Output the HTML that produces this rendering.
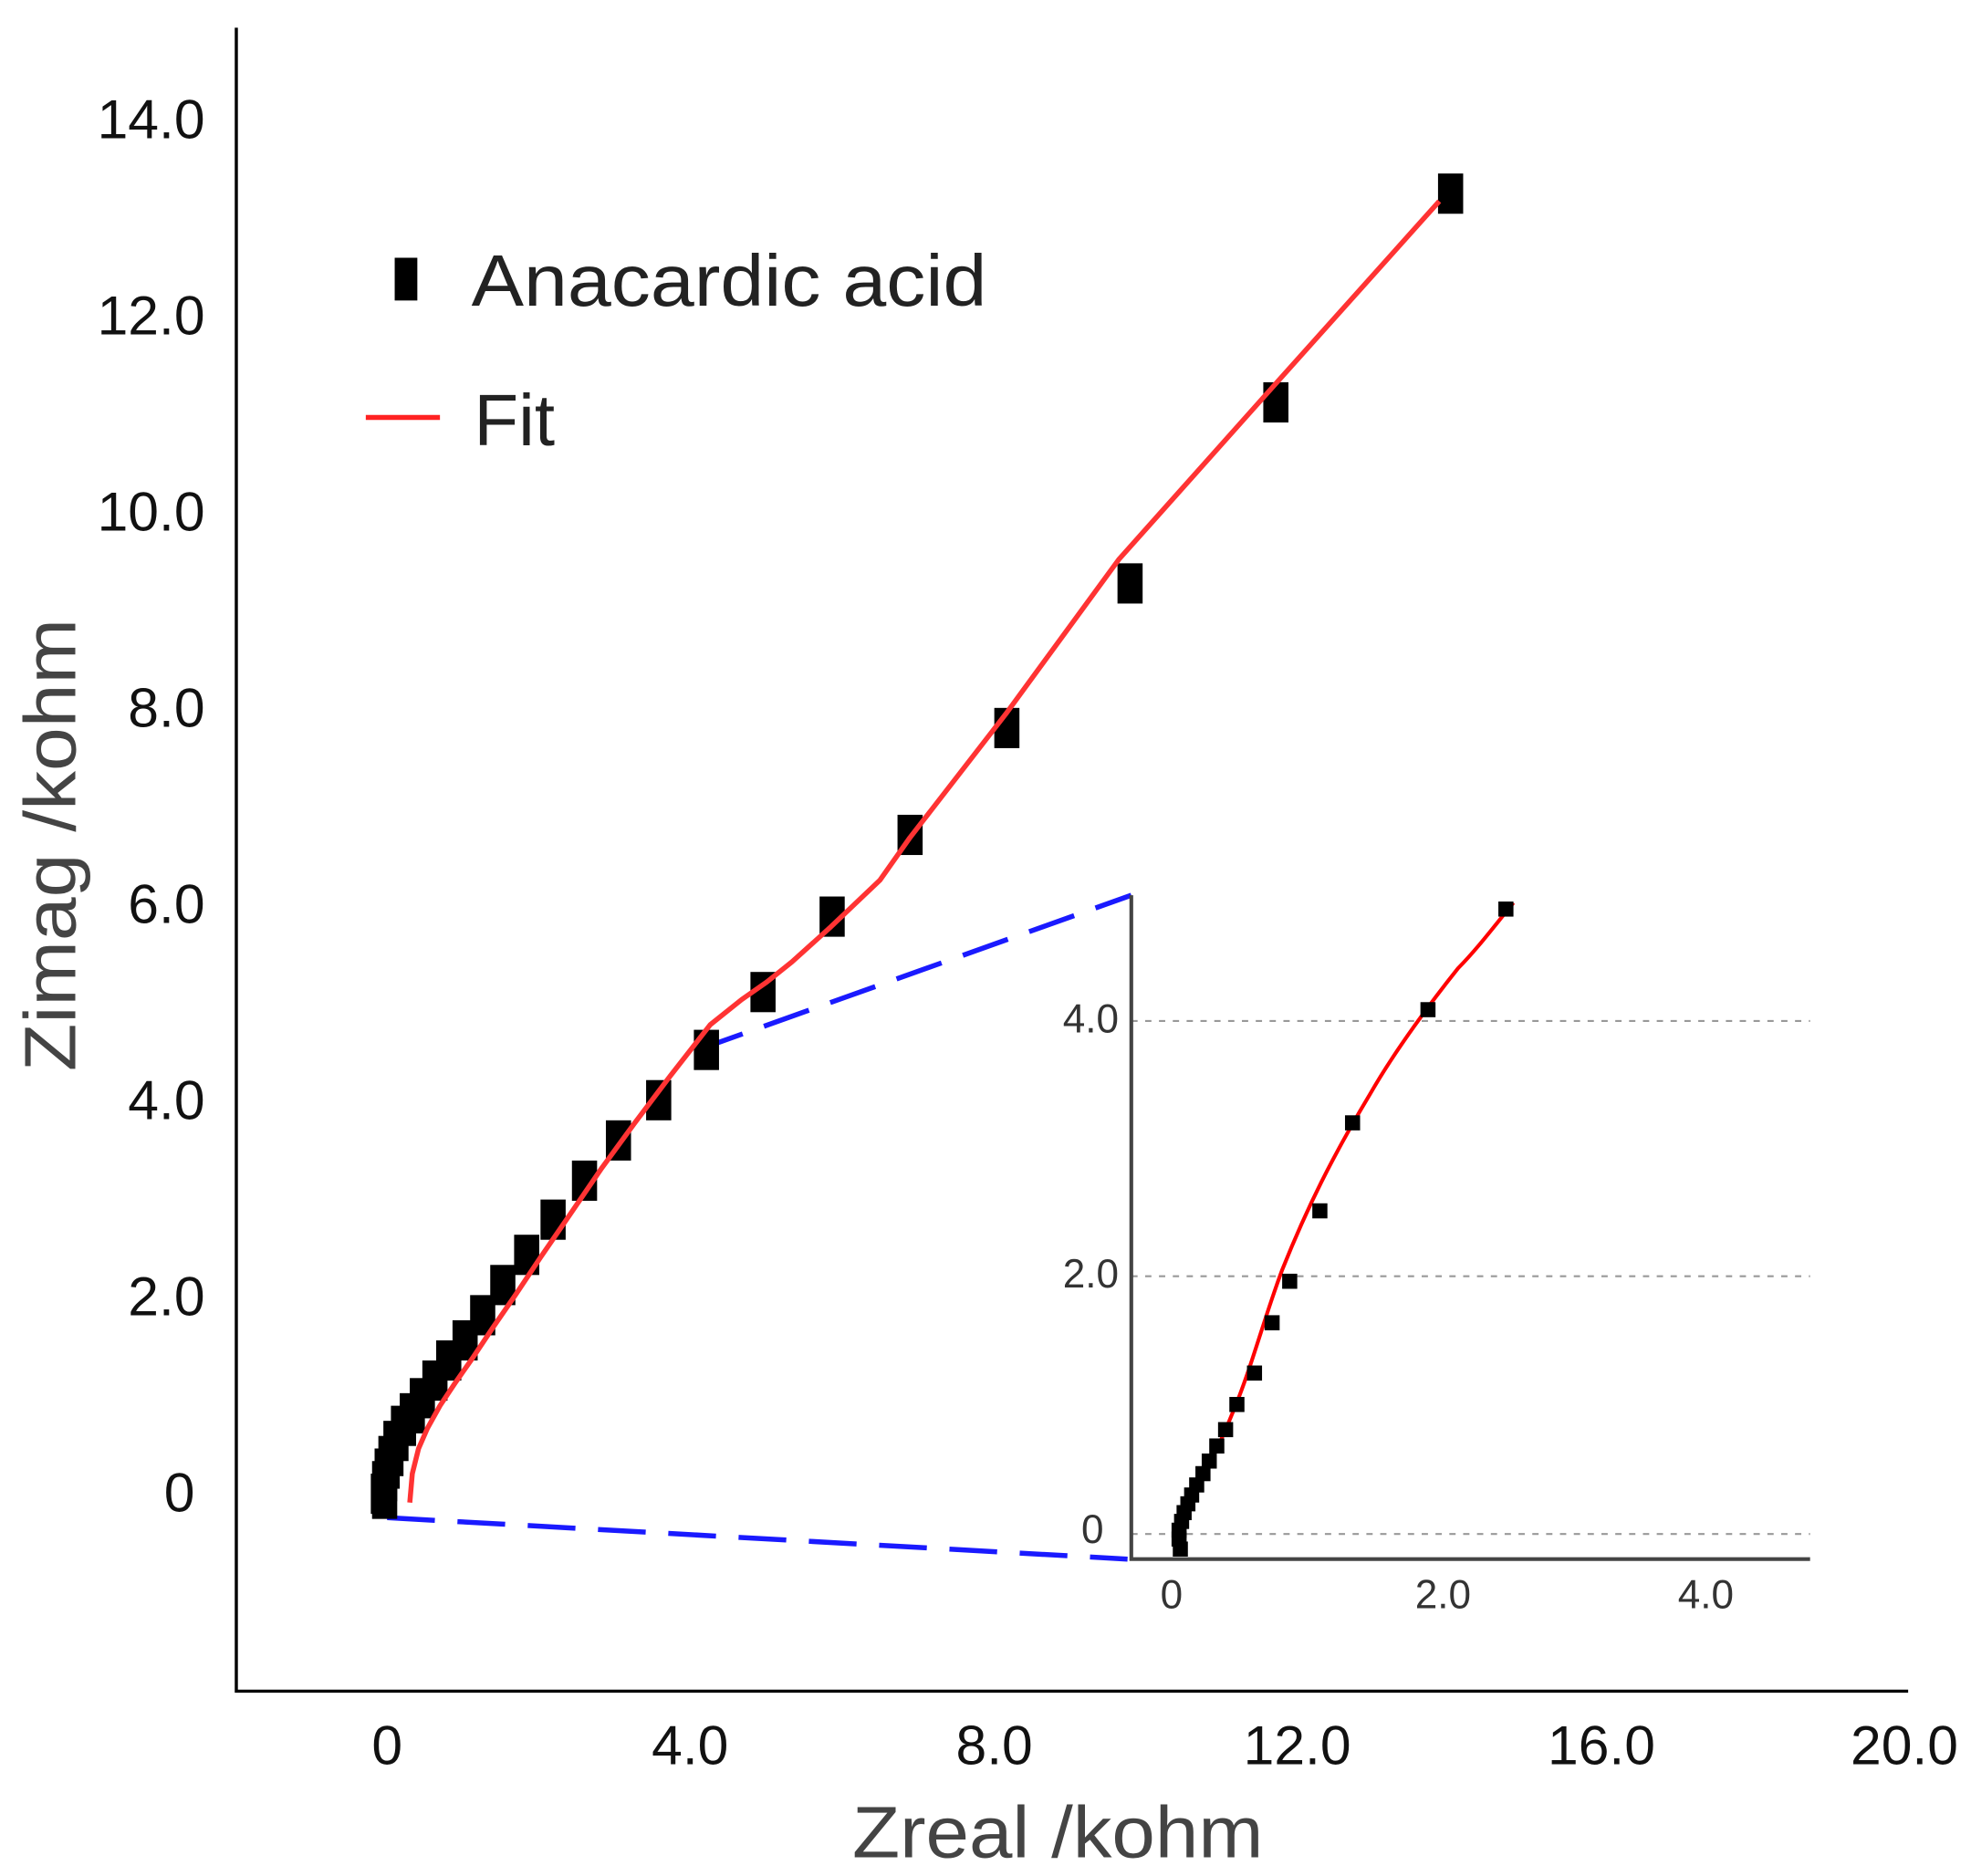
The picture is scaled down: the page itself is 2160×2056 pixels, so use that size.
<!DOCTYPE html>
<html><head><meta charset="utf-8"><style>
html,body{margin:0;padding:0;background:#fff;}
svg{display:block;}
text{font-family:"Liberation Sans",sans-serif;}
</style></head><body>
<svg width="2160" height="2056" viewBox="0 0 1568 1492" preserveAspectRatio="none" xmlns="http://www.w3.org/2000/svg">
<rect width="1568" height="1492" fill="#fff"/>
<path d="M188,22 V1345 H1518" fill="none" stroke="#000" stroke-width="2.5"/>
<g font-size="44" fill="#111" text-anchor="end">
<text x="163" y="110">14.0</text>
<text x="163" y="266">12.0</text>
<text x="163" y="422">10.0</text>
<text x="163" y="578">8.0</text>
<text x="163" y="734">6.0</text>
<text x="163" y="890">4.0</text>
<text x="163" y="1046">2.0</text>
<text x="155" y="1202">0</text>
</g>
<g font-size="44" fill="#111" text-anchor="middle">
<text x="308" y="1403">0</text>
<text x="549" y="1403">4.0</text>
<text x="791" y="1403">8.0</text>
<text x="1032" y="1403">12.0</text>
<text x="1274" y="1403">16.0</text>
<text x="1515" y="1403">20.0</text>
</g>
<text x="678" y="1477" font-size="58" fill="#444" textLength="327" lengthAdjust="spacingAndGlyphs">Zreal /kohm</text>
<text transform="translate(60,852) rotate(-90)" font-size="58" fill="#444" textLength="360" lengthAdjust="spacingAndGlyphs">Zimag /kohm</text>
<rect x="314" y="205" width="18" height="34" fill="#000"/>
<text x="375" y="243" font-size="58" fill="#222" textLength="410" lengthAdjust="spacingAndGlyphs">Anacardic acid</text>
<line x1="291" y1="332" x2="350" y2="332" stroke="#f22" stroke-width="4"/>
<text x="377" y="354" font-size="58" fill="#222">Fit</text>
<g stroke="#1a1aff" stroke-width="4" stroke-dasharray="38,18" fill="none">
<line x1="555" y1="835" x2="900" y2="712"/>
<line x1="308" y1="1207" x2="897" y2="1240"/>
</g>
<g fill="#000">
<rect x="1144" y="138" width="20" height="32"/><rect x="1005" y="304" width="20" height="32"/><rect x="889" y="448" width="20" height="32"/><rect x="791" y="563" width="20" height="32"/><rect x="714" y="648" width="20" height="32"/><rect x="652" y="713" width="20" height="32"/><rect x="597" y="773" width="20" height="32"/><rect x="552" y="819" width="20" height="32"/><rect x="514" y="859" width="20" height="32"/><rect x="482" y="891" width="20" height="32"/><rect x="455" y="923" width="20" height="32"/><rect x="430" y="954" width="20" height="32"/><rect x="409" y="982" width="20" height="32"/><rect x="390" y="1006" width="20" height="32"/><rect x="374" y="1030" width="20" height="32"/><rect x="360" y="1050" width="20" height="32"/><rect x="347" y="1066" width="20" height="32"/><rect x="336" y="1082" width="20" height="32"/><rect x="326" y="1096" width="20" height="32"/><rect x="318" y="1108" width="20" height="32"/><rect x="311" y="1118" width="20" height="32"/><rect x="305" y="1130" width="20" height="32"/><rect x="301" y="1142" width="20" height="32"/><rect x="298" y="1152" width="20" height="32"/><rect x="296" y="1162" width="20" height="32"/><rect x="295" y="1172" width="20" height="32"/><rect x="296" y="1180" width="20" height="28"/>
</g>
<polyline points="326,1195 328,1172 333,1152 340,1136 350,1118 362,1100 376,1080 392,1056 410,1030 430,1000 452,968 478,930 505,893 533,856 565,815 590,795 610,781 630,765 660,738 700,700 724,666 800,568 890,445 1015,305 1145,160" fill="none" stroke="#f33" stroke-width="4" stroke-linejoin="round"/>
<g stroke="#999" stroke-width="1.5" stroke-dasharray="5,6">
<line x1="900" y1="812" x2="1440" y2="812"/>
<line x1="900" y1="1015" x2="1440" y2="1015"/>
<line x1="900" y1="1220" x2="1440" y2="1220"/>
</g>
<path d="M900,712 V1240 H1440" fill="none" stroke="#444" stroke-width="3"/>
<g font-size="32" fill="#333" text-anchor="end">
<text x="890" y="821">4.0</text><text x="890" y="1024">2.0</text><text x="878" y="1227">0</text>
</g>
<g font-size="32" fill="#333" text-anchor="middle">
<text x="932" y="1279">0</text><text x="1148" y="1279">2.0</text><text x="1357" y="1279">4.0</text>
</g>
<path d="M1204,718 C1190,735 1175,755 1160,770 C1140,795 1110,835 1090,870 C1060,920 1040,960 1020,1010 C1005,1050 995,1090 980,1125 C970,1150 955,1180 945,1200 C938,1212 934,1222 935,1235" fill="none" stroke="#f00" stroke-width="3"/>
<g fill="#000">
<rect x="1192" y="717" width="12" height="12"/><rect x="1130" y="797" width="12" height="12"/><rect x="1070" y="887" width="12" height="12"/><rect x="1044" y="957" width="12" height="12"/><rect x="1020" y="1013" width="12" height="12"/><rect x="1006" y="1046" width="12" height="12"/><rect x="992" y="1086" width="12" height="12"/><rect x="978" y="1111" width="12" height="12"/><rect x="969" y="1131" width="12" height="12"/><rect x="962" y="1144" width="12" height="12"/><rect x="956" y="1156" width="12" height="12"/><rect x="951" y="1166" width="12" height="12"/><rect x="946" y="1175" width="12" height="12"/><rect x="942" y="1183" width="12" height="12"/><rect x="939" y="1190" width="12" height="12"/><rect x="936" y="1197" width="12" height="12"/><rect x="934" y="1204" width="12" height="12"/><rect x="932" y="1211" width="12" height="12"/><rect x="932" y="1218" width="12" height="12"/><rect x="933" y="1226" width="12" height="12"/>
</g>
</svg>
</body></html>
